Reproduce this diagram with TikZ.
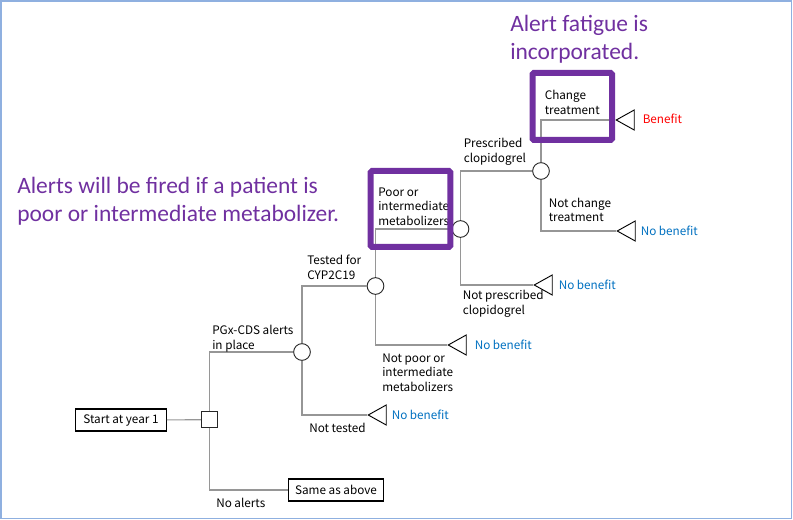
\documentclass[tikz,border=0pt]{standalone}
\usepackage{fontspec}
\setmainfont{Noto Sans CJK SC}
\newfontfamily\calfont{Carlito}
\usepackage{xcolor}
\usetikzlibrary{arrows,shapes,positioning}
\usetikzlibrary{shapes.geometric}

\definecolor{alertpurple}{RGB}{112,48,160}
\definecolor{nbblue}{RGB}{0,112,192}
\definecolor{linegray}{RGB}{150,150,150}
\definecolor{framblue}{RGB}{143,176,224}

\tikzset{
  branch/.style={draw=linegray, line width=0.8},
  chance/.style={circle, draw=black!85, fill=white, line width=0.7, minimum size=12.5, inner sep=0},
  decision/.style={rectangle, draw=black!85, fill=white, line width=0.9, minimum size=12, inner sep=0},
  terminal/.style={isosceles triangle, shape border rotate=180, isosceles triangle stretches,
    draw=black, fill=white, line width=0.7, inner sep=0, minimum width=15, minimum height=13.5},
  endbox/.style={rectangle, draw=black, line width=0.8, inner xsep=5, minimum height=16.5, font=\fontsize{8.8}{11}\selectfont},
  lbl/.style={anchor=west, align=left, inner sep=0.75, font=\fontsize{8.8}{11}\selectfont},
  payoff/.style={anchor=west, inner sep=0.75, font=\fontsize{8.8}{11}\selectfont},
  note/.style={anchor=west, align=left, inner sep=0.75, text=alertpurple, font=\calfont\fontsize{17.6}{21.3}\selectfont},
  alertbox/.style={draw=alertpurple, line width=4.5, rounded corners=1}
}

\begin{document}
\begin{tikzpicture}[x=0.75pt,y=0.75pt,yscale=-1,xscale=1]
% frame
\draw[framblue, line width=1.2] (1,1) rectangle (791.5,518.5);
\useasboundingbox (0,0) rectangle (793,520);

% start and decision
\node[endbox, minimum width=68] (start) at (121,420) {Start at year 1};
\node[decision] (dec) at (209.5,419.7) {};
\node[endbox, minimum width=70.5] (same) at (336,490) {Same as above};

% chance nodes
\node[chance] (alerts) at (302,352) {};
\node[chance] (tested) at (375.5,286) {};
\node[chance] (poor) at (460.5,229) {};
\node[chance] (presc) at (541,171) {};

% terminal nodes
\node[terminal, anchor=apex] (tnotest) at (367,415) {};
\node[terminal, anchor=apex] (tnotpoor) at (447,345) {};
\node[terminal, anchor=apex] (tnotpresc) at (533,285) {};
\node[terminal, anchor=apex] (tbenefit) at (615,120) {};
\node[terminal, anchor=apex] (tnochange) at (616,231) {};

% branches
\draw[branch] (start) -- (dec);
\draw[branch] (dec) |- (alerts);
\draw[branch] (dec) |- (same);
\draw[branch] (alerts) |- (tested);
\draw[branch] (alerts) |- (tnotest.apex);
\draw[branch] (tested) |- (poor);
\draw[branch] (tested) |- (tnotpoor.apex);
\draw[branch] (poor) |- (presc);
\draw[branch] (poor) |- (tnotpresc.apex);
\draw[branch] (presc) |- (tbenefit.apex);
\draw[branch] (presc) |- (tnochange.apex);

% branch labels
\node[lbl] (lalerts) at (211,338.5) {PGx-CDS alerts\\in place};
\node[lbl] (lnoalerts) at (215,503) {No alerts};
\node[lbl] (ltested) at (306,267.5) {Tested for\\CYP2C19};
\node[lbl] (lnotest) at (308,428) {Not tested};
\node[lbl] (lpoor) at (377,206.5) {Poor or\\intermediate\\metabolizers};
\node[lbl] (lnotpoor) at (381,372.5) {Not poor or\\intermediate\\metabolizers};
\node[lbl] (lpresc) at (462.5,151.5) {Prescribed\\clopidogrel};
\node[lbl] (lnotpresc) at (461.5,303.5) {Not prescribed\\clopidogrel};
\node[lbl] (lchange) at (543.5,102.5) {Change\\treatment};
\node[lbl] (lnochange) at (547.5,210) {Not change\\treatment};

% payoffs
\node[payoff, text=red] (pbenefit) at (641.5,119) {Benefit};
\node[payoff, text=nbblue] (pnotest) at (390.5,415) {No benefit};
\node[payoff, text=nbblue] (pnotpoor) at (473.5,345) {No benefit};
\node[payoff, text=nbblue] (pnotpresc) at (557.5,285) {No benefit};
\node[payoff, text=nbblue] (pnochange) at (639.5,231) {No benefit};

% highlights
\draw[alertbox] (370.7,171) rectangle (450.3,247);
\draw[alertbox] (532.5,73) rectangle (612,140);
\node[note] (nfired) at (16,201) {Alerts will be fired if a patient is\\poor or intermediate metabolizer.};
\node[note] (nfatigue) at (509,39) {Alert fatigue is\\incorporated.};
\end{tikzpicture}
\end{document}
